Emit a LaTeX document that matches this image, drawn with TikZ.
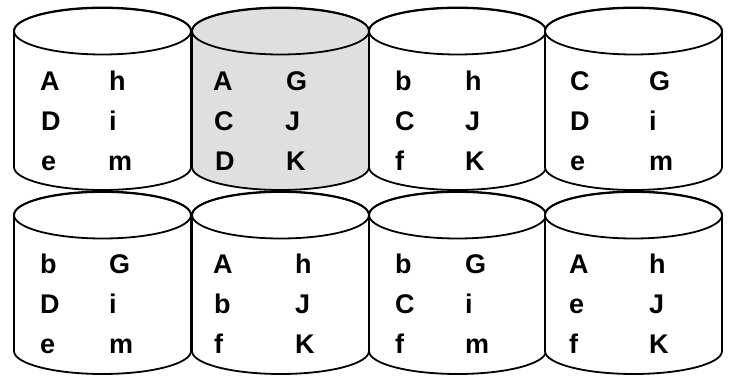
\documentclass[tikz,border=0pt]{standalone}
\usepackage{fontspec}
\setmainfont{Liberation Sans}
\begin{document}
\begin{tikzpicture}[x=1pt,y=1pt,
  cylline/.style={line width=1.8pt, line join=round},
  lbl/.style={anchor=base west, inner sep=0pt, font=\fontsize{27}{27}\selectfont\bfseries}]
\useasboundingbox (0,0) rectangle (732,377);
% cylinder macro: #1 left x, #2 top-ellipse centre y, #3 fill
\newcommand\dbcyl[3]{%
  \filldraw[cylline, fill=#3] (#1,#2) -- (#1,#2-136)
    arc[start angle=180, end angle=360, x radius=88.5, y radius=23]
    -- (#1+177,#2) arc[start angle=0, end angle=180, x radius=88.5, y radius=23] -- cycle;
  \draw[cylline] (#1+88.5,#2) ellipse[x radius=88.5, y radius=23.5];
}
\dbcyl{14}{346}{white}
\dbcyl{192}{346}{gray!25}
\dbcyl{369}{346}{white}
\dbcyl{545}{346}{white}
\dbcyl{14}{162}{white}
\dbcyl{192}{162}{white}
\dbcyl{369}{162}{white}
\dbcyl{545}{162}{white}
% top row
\node[lbl] (a1) at (40,286) {A};  \node[lbl] (a2) at (109,286) {h};
\node[lbl] (a3) at (41,246) {D};  \node[lbl] (a4) at (109,246) {i};
\node[lbl] (a5) at (41,206) {e};  \node[lbl] (a6) at (108,206) {m};
\node[lbl] (b1) at (213,286) {A}; \node[lbl] (b2) at (286,286) {G};
\node[lbl] (b3) at (214,246) {C}; \node[lbl] (b4) at (285,246) {J};
\node[lbl] (b5) at (215,206) {D}; \node[lbl] (b6) at (286,206) {K};
\node[lbl] (c1) at (395,286) {b}; \node[lbl] (c2) at (465,286) {h};
\node[lbl] (c3) at (395,246) {C}; \node[lbl] (c4) at (465,246) {J};
\node[lbl] (c5) at (395,206) {f}; \node[lbl] (c6) at (465,206) {K};
\node[lbl] (d1) at (570,286) {C}; \node[lbl] (d2) at (649,286) {G};
\node[lbl] (d3) at (570,246) {D}; \node[lbl] (d4) at (649,246) {i};
\node[lbl] (d5) at (570,206) {e}; \node[lbl] (d6) at (649,206) {m};
% bottom row
\node[lbl] (e1) at (40,103) {b};  \node[lbl] (e2) at (109,103) {G};
\node[lbl] (e3) at (40,63) {D};   \node[lbl] (e4) at (109,63) {i};
\node[lbl] (e5) at (40,23) {e};   \node[lbl] (e6) at (109,23) {m};
\node[lbl] (f1) at (213,103) {A}; \node[lbl] (f2) at (295,103) {h};
\node[lbl] (f3) at (214,63) {b};  \node[lbl] (f4) at (295,63) {J};
\node[lbl] (f5) at (214,23) {f};  \node[lbl] (f6) at (295,23) {K};
\node[lbl] (g1) at (395,103) {b}; \node[lbl] (g2) at (465,103) {G};
\node[lbl] (g3) at (395,63) {C};  \node[lbl] (g4) at (465,63) {i};
\node[lbl] (g5) at (395,23) {f};  \node[lbl] (g6) at (465,23) {m};
\node[lbl] (h1) at (569,103) {A}; \node[lbl] (h2) at (649,103) {h};
\node[lbl] (h3) at (569,63) {e};  \node[lbl] (h4) at (649,63) {J};
\node[lbl] (h5) at (569,23) {f};  \node[lbl] (h6) at (649,23) {K};
\end{tikzpicture}
\end{document}
